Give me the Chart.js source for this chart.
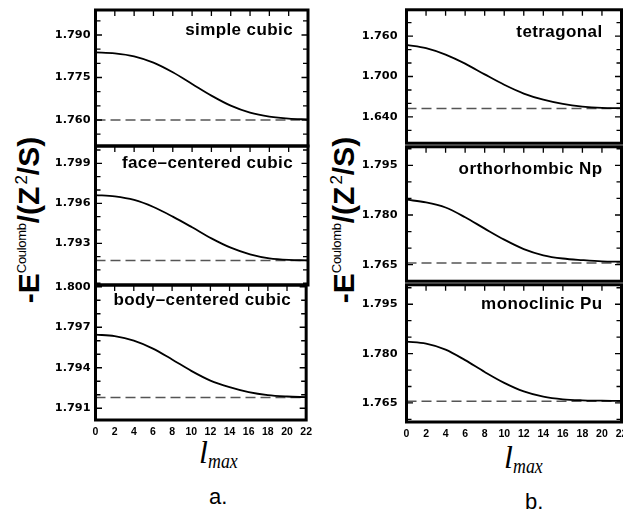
<!DOCTYPE html>
<html><head><meta charset="utf-8">
<script src="https://cdn.jsdelivr.net/npm/chart.js@4.4.0/dist/chart.umd.min.js"></script>
<style>
html,body{margin:0;padding:0;background:#fff}
body{position:relative;width:623px;height:513px;overflow:hidden}
canvas{position:absolute}
.ytitle{position:absolute;white-space:nowrap;font-family:"Liberation Sans",Arial,sans-serif;font-weight:bold;font-size:30px;color:#000;transform:translate(-50%,-50%) rotate(-90deg);line-height:1}
.ytitle .sup1{font-size:13px;font-weight:normal;position:relative;top:-13px;letter-spacing:-0.3px}
.ytitle .sup2{font-size:17px;font-weight:normal;position:relative;top:-12px;margin-left:2px}
.xtitle{position:absolute;white-space:nowrap;font-family:"Liberation Serif","Times New Roman",serif;font-style:italic;color:#000;line-height:1}
.xtitle .l{font-size:32px}
.xtitle .sub{font-size:21px;position:relative;top:5px;display:inline-block;transform:scaleX(0.85);transform-origin:left}
.cap{position:absolute;font-family:"Liberation Sans",Arial,sans-serif;font-size:22px;color:#000;line-height:1}
</style></head><body>
<div class="ytitle" style="left:29px;top:220px">-E<span class="sup1">Coulomb</span>/(Z<span class="sup2">2</span>/S)</div>
<div class="ytitle" style="left:344px;top:220px">-E<span class="sup1">Coulomb</span>/(Z<span class="sup2">2</span>/S)</div>
<div class="xtitle" style="left:199px;top:436px"><span class="l">l</span><span class="sub">max</span></div>
<div class="xtitle" style="left:504px;top:441px"><span class="l">l</span><span class="sub">max</span></div>
<div class="cap" style="left:209px;top:486px">a.</div>
<div class="cap" style="left:525px;top:491px">b.</div>
<script>
// ---- data ----
const lmax = [0, 2, 4, 6, 8, 10, 12, 14, 16, 18, 20, 22];

const scValues    = [1.78388, 1.78353, 1.78247, 1.78023, 1.77682, 1.77271, 1.76859, 1.76506, 1.76259, 1.76118, 1.76047, 1.76024];
const scLimit     = 1.7600;
const fccValues   = [1.79662, 1.79652, 1.79625, 1.79572, 1.79500, 1.79420, 1.79337, 1.79267, 1.79217, 1.79187, 1.79175, 1.79172];
const fccLimit    = 1.79170;
const bccValues   = [1.79646, 1.79634, 1.79601, 1.79542, 1.79461, 1.79377, 1.79305, 1.79256, 1.79219, 1.79197, 1.79187, 1.79182];
const bccLimit    = 1.79179;
const tetValues   = [1.74699, 1.74217, 1.73253, 1.71904, 1.70314, 1.68771, 1.67470, 1.66555, 1.65927, 1.65543, 1.65349, 1.65301];
const tetLimit    = 1.6527;
const orthoValues = [1.78461, 1.78382, 1.78226, 1.77931, 1.77588, 1.77255, 1.76971, 1.76784, 1.76686, 1.76637, 1.76600, 1.76590];
const orthoLimit  = 1.7655;
const monoValues  = [1.78361, 1.78301, 1.78121, 1.77801, 1.77441, 1.77111, 1.76851, 1.76691, 1.76611, 1.76581, 1.76571, 1.76561];
const monoLimit   = 1.7655;

const scTicks    = [1.760, 1.775, 1.790];  const scLabels    = ['1.760', '1.775', '1.790'];
const fccTicks   = [1.793, 1.796, 1.799];  const fccLabels   = ['1.793', '1.796', '1.799'];
const bccTicks   = [1.791, 1.794, 1.797, 1.800]; const bccLabels = ['1.791', '1.794', '1.797', '1.800'];
const tetTicks   = [1.640, 1.700, 1.760];  const tetLabels   = ['1.640', '1.700', '1.760'];
const orthoTicks = [1.765, 1.780, 1.795];  const orthoLabels = ['1.765', '1.780', '1.795'];
const monoTicks  = [1.765, 1.780, 1.795];  const monoLabels  = ['1.765', '1.780', '1.795'];
const xTicks = [0, 2, 4, 6, 8, 10, 12, 14, 16, 18, 20, 22];

const panelTitles = ['simple cubic', 'face\u2013centered cubic', 'body\u2013centered cubic',
                     'tetragonal', 'orthorhombic Np', 'monoclinic Pu'];

// ---- layout ----
const columns = [
  {left: 0,   width: 318, plotLeft: 95.5, plotRight: 308,   labelPad: 5, titleInset: 15},
  {left: 310, width: 330, plotLeft: 96.5, plotRight: 311.5, labelPad: 9, titleInset: 19}
];
const panels = [
  {col: 0, top: 10,  bottom: 146, yMin: 1.75082, yMax: 1.79882, values: scValues,    limit: scLimit,    ticks: scTicks,    labels: scLabels,    minor: 0.005, title: panelTitles[0], tb: 25, last: false},
  {col: 0, top: 146, bottom: 285, yMin: 1.78987, yMax: 1.80030, values: fccValues,   limit: fccLimit,   ticks: fccTicks,   labels: fccLabels,   minor: 0.001, title: panelTitles[1], tb: 22, last: false},
  {col: 0, top: 285, bottom: 420, yMin: 1.79013, yMax: 1.80013, values: bccValues,   limit: bccLimit,   ticks: bccTicks,   labels: bccLabels,   minor: 0.001, title: panelTitles[2], tb: 20, last: true},
  {col: 1, top: 8,   bottom: 145, yMin: 1.60100, yMax: 1.79900, values: tetValues,   limit: tetLimit,   ticks: tetTicks,   labels: tetLabels,   minor: 0.02,  title: panelTitles[3], tb: 27, last: false},
  {col: 1, top: 145, bottom: 283, yMin: 1.76000, yMax: 1.80059, values: orthoValues, limit: orthoLimit, ticks: orthoTicks, labels: orthoLabels, minor: 0.005, title: panelTitles[4], tb: 27, last: false},
  {col: 1, top: 283, bottom: 422, yMin: 1.75921, yMax: 1.80091, values: monoValues,  limit: monoLimit,  ticks: monoTicks,  labels: monoLabels,  minor: 0.005, title: panelTitles[5], tb: 24, last: true}
];

function framePlugin(p, col) {
  return {
    id: 'frame',
    afterDraw(chart) {
      const ctx = chart.ctx, a = chart.chartArea, xs = chart.scales.x, ys = chart.scales.y;
      ctx.save();
      ctx.strokeStyle = '#000';
      ctx.lineWidth = 1.3;
      ctx.beginPath();
      // x ticks on the top edge, pointing down
      xTicks.forEach(v => {
        const px = xs.getPixelForValue(v);
        ctx.moveTo(px, a.top); ctx.lineTo(px, a.top + 6);
      });
      // y ticks, major and minor, both sides pointing inward
      const k0 = Math.ceil(p.yMin / p.minor - 1e-6), k1 = Math.floor(p.yMax / p.minor + 1e-6);
      for (let k = k0; k <= k1; k++) {
        const v = k * p.minor;
        const isMajor = p.ticks.some(t => Math.abs(t - v) < p.minor * 0.01);
        const L = isMajor ? 6.5 : 5;
        const py = ys.getPixelForValue(v);
        ctx.moveTo(a.left, py); ctx.lineTo(a.left + L, py);
        ctx.moveTo(a.right, py); ctx.lineTo(a.right - L, py);
      }
      ctx.stroke();
      // frame
      ctx.lineWidth = 3;
      ctx.strokeRect(a.left, a.top, a.right - a.left, a.bottom - a.top);
      // panel title
      ctx.fillStyle = '#000';
      ctx.font = 'bold 17px "Liberation Sans", Arial, sans-serif';
      try { ctx.letterSpacing = '0.4px'; } catch (e) {}
      ctx.textAlign = 'right';
      ctx.textBaseline = 'alphabetic';
      ctx.fillText(p.title, a.right - col.titleInset, a.top + p.tb);
      ctx.restore();
    }
  };
}

panels.forEach(p => {
  const col = columns[p.col];
  const padT = 14, padB = 14;
  const xAxisH = p.last ? 20 : 0;
  const canvas = document.createElement('canvas');
  const h = (p.bottom - p.top) + padT + padB + xAxisH;
  canvas.width = col.width; canvas.height = h;
  canvas.style.width = col.width + 'px'; canvas.style.height = h + 'px';
  canvas.style.left = col.left + 'px'; canvas.style.top = (p.top - padT) + 'px';
  document.body.appendChild(canvas);

  new Chart(canvas, {
    type: 'line',
    data: {
      datasets: [
        {
          data: lmax.map((x, i) => ({x: x, y: p.values[i]})),
          borderColor: '#000', borderWidth: 1.8, pointRadius: 0,
          cubicInterpolationMode: 'monotone', fill: false
        },
        {
          data: [{x: lmax[0], y: p.limit}, {x: lmax[lmax.length - 1], y: p.limit}],
          borderColor: '#555', borderWidth: 1.5, borderDash: [10, 5], pointRadius: 0, fill: false
        }
      ]
    },
    options: {
      responsive: false, animation: false, devicePixelRatio: 1,
      layout: {padding: {left: 0, right: col.width - col.plotRight, top: padT, bottom: padB}},
      plugins: {legend: {display: false}, tooltip: {enabled: false}},
      scales: {
        x: {
          type: 'linear', min: 0, max: 22, display: p.last,
          afterBuildTicks: s => { s.ticks = xTicks.map(v => ({value: v})); },
          ticks: {autoSkip: false, maxRotation: 0, color: '#000', padding: 6,
                  font: {family: '"Liberation Sans", Arial, sans-serif', size: 10.5, weight: 'bold'}},
          grid: {display: false, drawTicks: false}, border: {display: false},
          afterFit: s => { s.height = xAxisH; }
        },
        y: {
          type: 'linear', min: p.yMin, max: p.yMax,
          afterBuildTicks: s => { s.ticks = p.ticks.map(v => ({value: v})); },
          ticks: {autoSkip: false, color: '#000', padding: col.labelPad,
                  callback: (v, i) => p.labels[i],
                  font: {family: '"DejaVu Sans", sans-serif', size: 11.3, weight: 'bold'}},
          grid: {display: false, drawTicks: false}, border: {display: false},
          afterFit: s => { s.width = col.plotLeft; }
        }
      }
    },
    plugins: [framePlugin(p, col)]
  });
});
</script>
</body></html>
